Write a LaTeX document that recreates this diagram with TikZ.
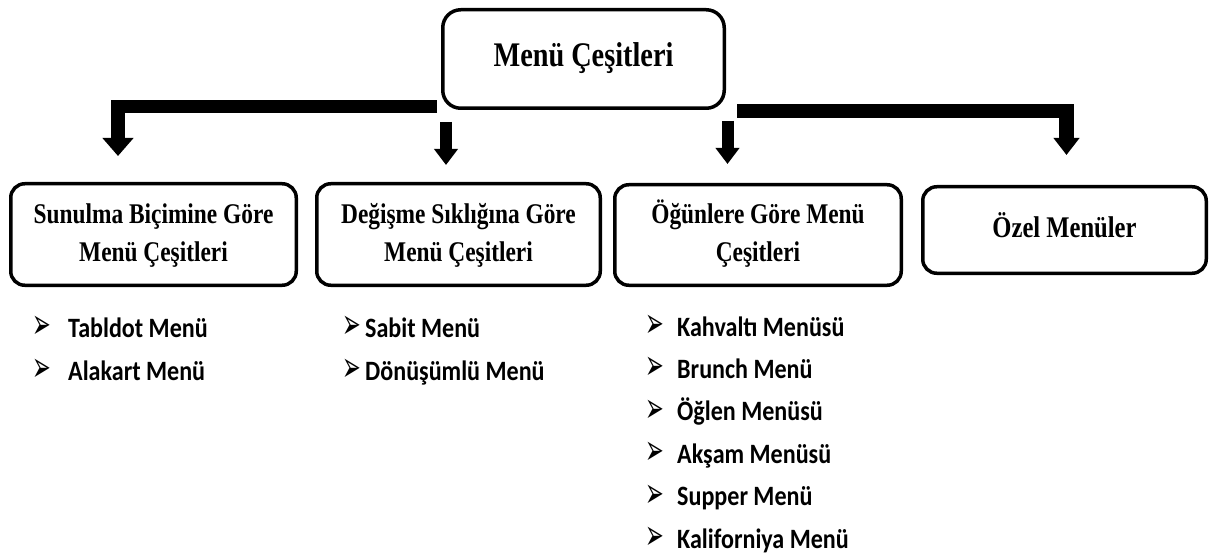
\documentclass[tikz,border=0pt]{standalone}
\usepackage{fontspec}
\usetikzlibrary{arrows.meta}
\newfontfamily\boxfont[FakeStretch=0.82]{Liberation Serif}
\newfontfamily\listfont[FakeStretch=0.86]{Carlito}
\newfontfamily\symfont{DejaVu Sans}
\newcommand\arrbul{\raisebox{0pt}[\height][0pt]{\scalebox{0.8}[1.5]{➢}}}
\begin{document}
\begin{tikzpicture}[x=1pt,y=-1pt,
  catbox/.style={draw=black, line width=3.5pt, rounded corners=14pt, fill=white,
    inner sep=0pt, align=center, font=\boxfont\bfseries\fontsize{28.5}{38}\selectfont},
  topbox/.style={catbox, rounded corners=18pt, font=\boxfont\bfseries\fontsize{34.5}{40}\selectfont,
    text height=23pt, text depth=7pt},
  bul/.style={anchor=base west, inner sep=0pt, font=\symfont\fontsize{28}{30}\selectfont},
  itm/.style={anchor=base west, inner sep=0pt, font=\listfont\bfseries\fontsize{28}{34}\selectfont},
  bigarrow/.style={draw=black, line join=miter, line cap=butt,
    -{Triangle[width=30pt,length=18pt]}},
  smallarrow/.style={draw=black, line width=12pt, line cap=butt,
    -{Triangle[width=23pt,length=16pt]}}
]
\useasboundingbox (0,0) rectangle (1211,559);

% connectors (drawn first, boxes on top)
\coordinate (lstart) at (437,106.5);
\coordinate (ltip) at (118,156);
\coordinate (rstart) at (737,111);
\coordinate (rtip) at (1066.5,155);
\coordinate (m1s) at (446,122);
\coordinate (m1t) at (446,165);
\coordinate (m2s) at (727.5,121);
\coordinate (m2t) at (727.5,164);

\draw[bigarrow, line width=13.5pt] (lstart) -| (ltip);
\draw[bigarrow, line width=14.5pt, -{Triangle[width=25pt,length=17pt]}] (rstart) -| (rtip);
\draw[smallarrow] (m1s) -- (m1t);
\draw[smallarrow] (m2s) -- (m2t);

% boxes
\node[topbox, minimum width=281.5pt, minimum height=98.5pt] (top) at (583.5,59) {Menü Çeşitleri};
\node[catbox, minimum width=285.5pt, minimum height=101.5pt] (c1) at (153.5,234.5)
  {\raisebox{-2.5pt}{\begin{tabular}{@{}c@{}}Sunulma Biçimine Göre\\Menü Çeşitleri\end{tabular}}};
\node[catbox, minimum width=283.5pt, minimum height=101.5pt] (c2) at (458.5,234.5)
  {\raisebox{-2.5pt}{\begin{tabular}{@{}c@{}}Değişme Sıklığına Göre\\Menü Çeşitleri\end{tabular}}};
\node[catbox, minimum width=286.5pt, minimum height=100.5pt] (c3) at (758,235)
  {\raisebox{-2.5pt}{\begin{tabular}{@{}c@{}}Öğünlere Göre Menü\\Çeşitleri\end{tabular}}};
\node[catbox, minimum width=283.5pt, minimum height=86.5pt, text height=20pt, text depth=6pt,
  font=\boxfont\bfseries\fontsize{30}{36}\selectfont] (c4) at (1064.5,230)
  {Özel Menüler};

% list 1
\node[bul] (b1a) at (32,338.5) {\arrbul};
\node[itm] (t1a) at (68,337) {Tabldot Menü};
\node[bul] (b1b) at (32,381.5) {\arrbul};
\node[itm] (t1b) at (68,380) {Alakart Menü};

% list 2
\node[bul] (b2a) at (342,338.5) {\arrbul};
\node[itm] (t2a) at (365,337) {Sabit Menü};
\node[bul] (b2b) at (342,381.5) {\arrbul};
\node[itm] (t2b) at (365,380) {Dönüşümlü Menü};

% list 3
\node[bul] (b3a) at (645,337.5) {\arrbul};
\node[itm] (t3a) at (677,336) {Kahvaltı Menüsü};
\node[bul] (b3b) at (645,379.9) {\arrbul};
\node[itm] (t3b) at (677,378.4) {Brunch Menü};
\node[bul] (b3c) at (645,422.3) {\arrbul};
\node[itm] (t3c) at (677,420.8) {Öğlen Menüsü};
\node[bul] (b3d) at (645,464.7) {\arrbul};
\node[itm] (t3d) at (677,463.2) {Akşam Menüsü};
\node[bul] (b3e) at (645,507.1) {\arrbul};
\node[itm] (t3e) at (677,505.6) {Supper Menü};
\node[bul] (b3f) at (645,549.5) {\arrbul};
\node[itm] (t3f) at (677,548) {Kaliforniya Menü};
\end{tikzpicture}
\end{document}
